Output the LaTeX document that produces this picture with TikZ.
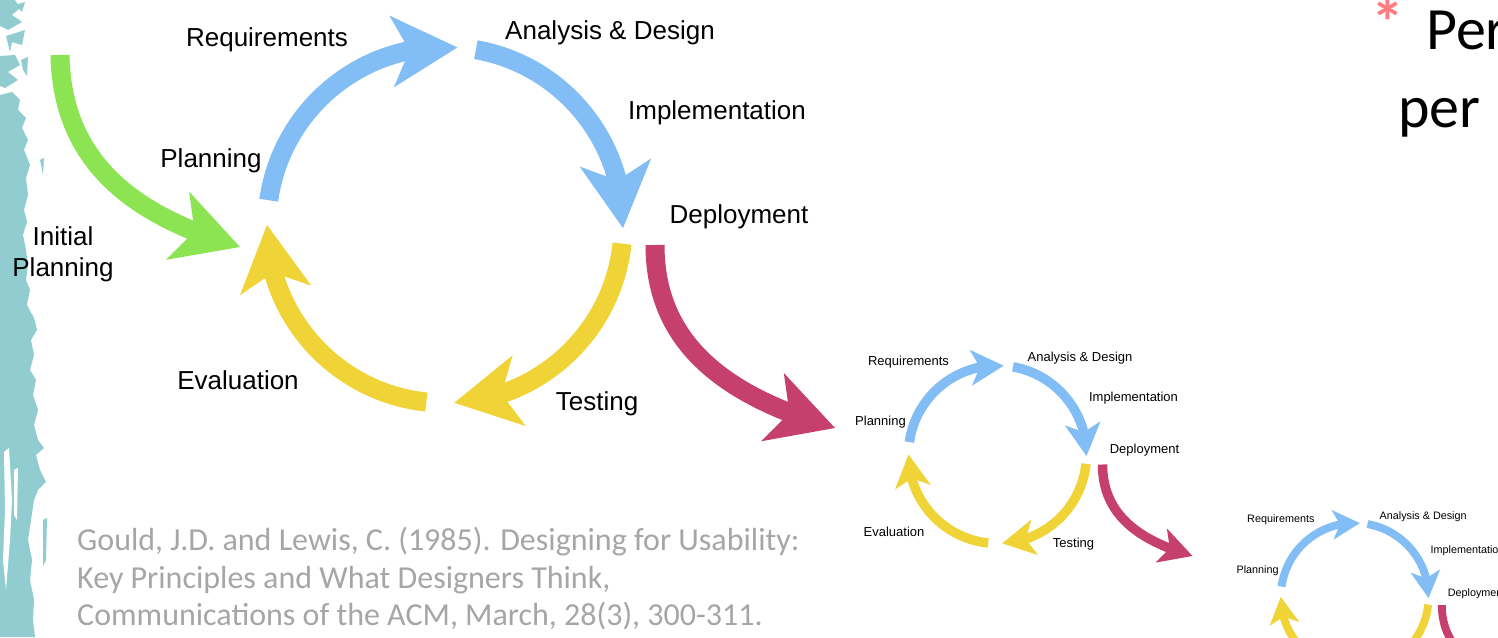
\documentclass[tikz,border=0pt]{standalone}
\usepackage{fontspec}
\setmainfont{Liberation Sans}
\newfontfamily\califont{Carlito}
\usetikzlibrary{arrows.meta,bending}

\definecolor{cgreen}{RGB}{140,228,82}
\definecolor{cblue}{RGB}{130,190,245}
\definecolor{cyellow}{RGB}{240,212,55}
\definecolor{cmag}{RGB}{198,64,110}
\definecolor{cteal}{RGB}{145,205,208}
\definecolor{cgray}{RGB}{166,166,166}
\definecolor{csalmon}{RGB}{255,124,128}

\tikzset{
  lbl/.style={inner sep=0pt, font=\fontsize{26}{31}\selectfont},
  cite/.style={inner sep=0pt, text=cgray, font=\califont\fontsize{32}{37}\selectfont},
  tipstyle/.style={-{Stealth[length=66pt,width=72pt,inset=18pt,line width=0pt,scale=#1]}},
  band/.style={line width=#1*19pt},
}

\newcommand\drawcycle[4]{%
\begin{scope}[shift={(#3,#4)}, scale=#2, transform shape]
  \coordinate (#1bas) at ({445+178*cos(172)},{412+178*sin(172)});
  \coordinate (#1bbs) at ({445+178*cos(80)},{412+178*sin(80)});
  \coordinate (#1yas) at ({445+178*cos(-6)},{412+178*sin(-6)});
  \coordinate (#1ybs) at ({445+178*cos(-96)},{412+178*sin(-96)});
  \coordinate (#1ms) at (655,392);
  \coordinate (#1me) at (835,209);
  \draw[cblue, band=#2, tipstyle=#2] (#1bas) arc[start angle=172, end angle=86, radius=178];
  \draw[cblue, band=#2, tipstyle=#2] (#1bbs) arc[start angle=80, end angle=-1, radius=178];
  \draw[cyellow, band=#2, tipstyle=#2] (#1yas) arc[start angle=-6, end angle=-87, radius=178];
  \draw[cyellow, band=#2, tipstyle=#2] (#1ybs) arc[start angle=-96, end angle=-180, radius=178];
  \draw[cmag, band=#2, tipstyle=#2] (#1ms) .. controls (655,297) and (720,242) .. (#1me);
  \node[lbl] (#1req) at (267,597) {Requirements};
  \node[lbl] (#1ana) at (610,604) {Analysis \& Design};
  \node[lbl] (#1imp) at (717,524) {Implementation};
  \node[lbl] (#1pla) at (211,476) {Planning};
  \node[lbl] (#1dep) at (739,420) {Deployment};
  \node[lbl] (#1eva) at (238,257) {Evaluation};
  \node[lbl] (#1tes) at (597,233) {Testing};
\end{scope}}

\begin{document}
\begin{tikzpicture}[x=1pt,y=1pt]
\useasboundingbox (0,0) rectangle (1498,637);
\clip (0,0) rectangle (1498,637);
\fill[white] (0,0) rectangle (1498,637);

% textured band on the left edge (image coordinates)
\begin{scope}[shift={(0,637)}, yscale=-1]
  \fill[cteal] (0,95) -- (12,92) -- (20,100) -- (18,110) -- (26,118) -- (22,128) -- (28,140) -- (24,150)
    -- (30,165) -- (26,178) -- (28,195) -- (24,210) -- (27,222) -- (23,235) -- (26,250) -- (28,265)
    -- (26,280) -- (30,290) -- (27,305) -- (34,318) -- (37,330) -- (31,340) -- (34,355) -- (30,370)
    -- (36,380) -- (33,395) -- (38,410) -- (34,425) -- (38,440) -- (44,448) -- (36,455) -- (40,470)
    -- (46,482) -- (38,490) -- (34,500) -- (31,520) -- (28,540) -- (32,560) -- (30,580) -- (34,600)
    -- (33,620) -- (35,637) -- (0,637) -- cycle;
  \fill[cteal] (0,0) -- (15,0) -- (20,8) -- (12,15) -- (22,22) -- (8,30) -- (0,26) -- cycle;
  \fill[cteal] (6,36) -- (25,30) -- (22,45) -- (12,42) -- (10,52) -- cycle;
  \fill[cteal] (0,56) -- (15,55) -- (20,65) -- (8,72) -- (18,80) -- (5,88) -- (0,86) -- cycle;
  \fill[cteal] (21,60) -- (28,57) -- (27,76) -- (23,70) -- cycle;
  \fill[cteal] (15,5) -- (25,2) -- (22,12) -- cycle;
  \fill[white] (4,452) -- (9,448) -- (12,500) -- (10,540) -- (6,590) -- (3,560) -- (5,510) -- cycle;
  \fill[white] (14,470) -- (18,468) -- (17,520) -- (14,515) -- cycle;
  \fill[cteal] (43,520) -- (47,518) -- (46,560) -- (43,566) -- cycle;
  \fill[cteal] (40,160) -- (44,158) -- (43,175) -- cycle;
\end{scope}

% main cycle and two smaller copies
\drawcycle{m}{1}{0}{0}
\drawcycle{a}{0.5}{775}{-23.5}
\drawcycle{b}{0.415}{1170}{-130.8}

% initial planning arrow
\coordinate (gs) at (60,582);
\coordinate (ge) at (240,390);
\draw[cgreen, band=1, tipstyle=1] (gs) .. controls (62,477) and (130,422) .. (ge);
\node[lbl, align=center] (init) at (63,383) {Initial\\Planning};

% citation
\node[cite, anchor=base west] (cite1) at (77,86) {Gould, J.D. and Lewis, C. (1985). Designing for Usability:};
\node[cite, anchor=base west] (cite2) at (77,49) {Key Principles and What Designers Think,};
\node[cite, anchor=base west] (cite3) at (77,12) {Communications of the ACM, March, 28(3), 300-311.};

% slide text (cut off at right edge)
\node[inner sep=0pt, anchor=base, text=csalmon, font=\califont\bfseries\fontsize{66}{66}\selectfont] (ast) at (1388,591) {*};
\node[inner sep=0pt, anchor=base west, font=\califont\fontsize{60}{64}\selectfont] (per1) at (1426,587) {Perform};
\node[inner sep=0pt, anchor=base west, font=\califont\fontsize{60}{64}\selectfont] (per2) at (1398,509) {per};
\end{tikzpicture}
\end{document}
